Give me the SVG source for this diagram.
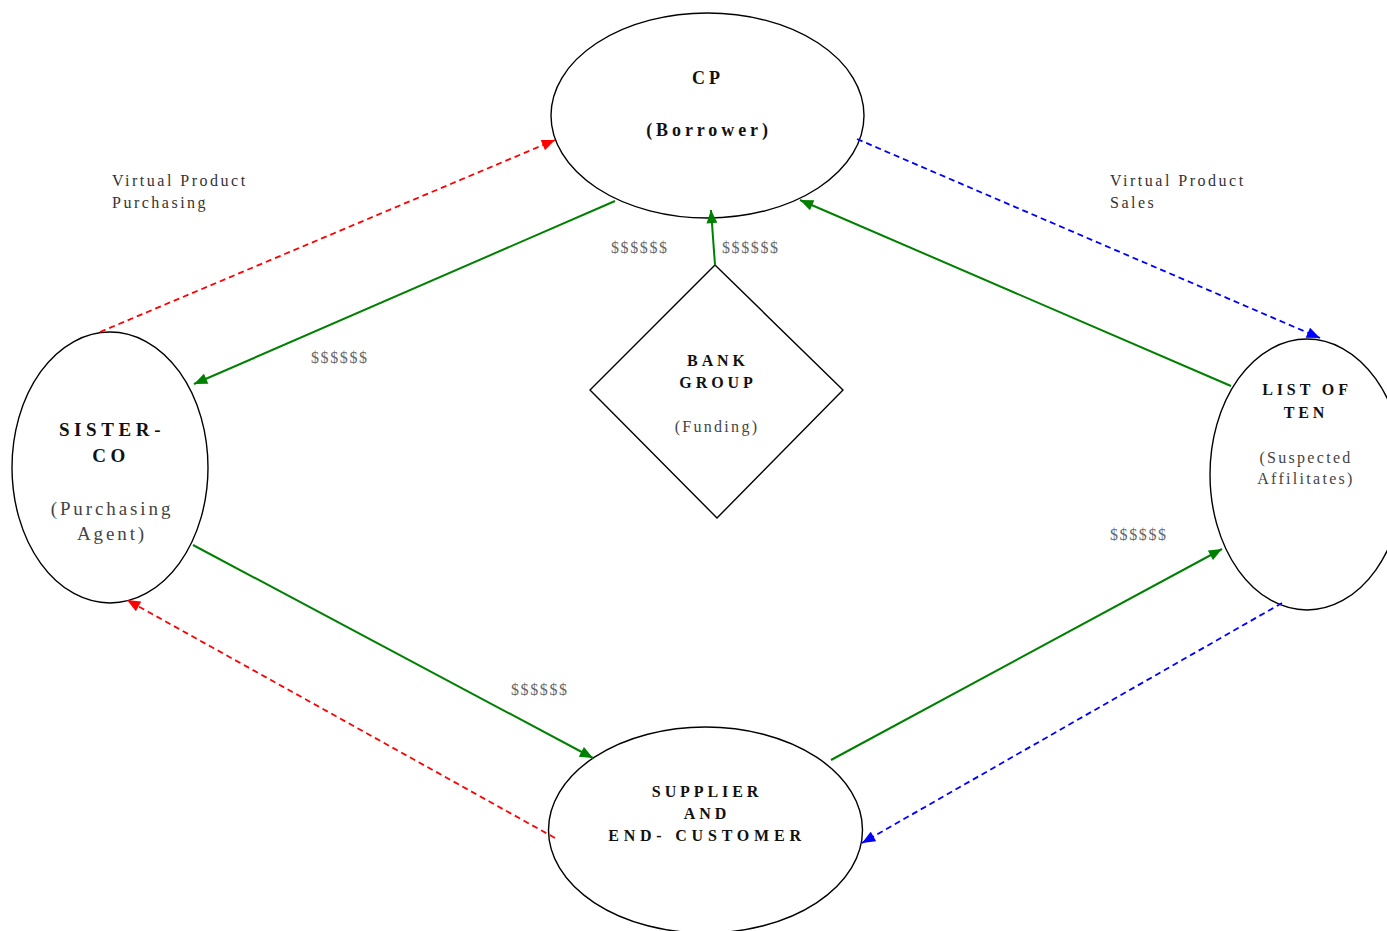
<svg xmlns="http://www.w3.org/2000/svg" width="1387" height="931" viewBox="0 0 1387 931">
<style>
.node{fill:#fff;stroke:#000;stroke-width:1.4}
.b{font-family:"Liberation Serif",serif;font-weight:bold;fill:#111;text-anchor:middle;letter-spacing:3.9px}
.n{font-family:"Liberation Serif",serif;fill:#444;text-anchor:middle;letter-spacing:2.3px}
.lbl{font-family:"Liberation Serif",serif;fill:#333;font-size:16px;letter-spacing:2.5px}
.d{font-family:"Liberation Serif",serif;fill:#666;font-size:16px;letter-spacing:1.6px}
.g{stroke:#008000;stroke-width:2;fill:none}
.r{stroke:#ff0000;stroke-width:1.8;fill:none;stroke-dasharray:6 4}
.bl{stroke:#0000ff;stroke-width:1.8;fill:none;stroke-dasharray:6 4}
</style>
<defs>
<marker id="ag" viewBox="0 0 12 10" refX="12" refY="5" markerWidth="14" markerHeight="11" markerUnits="userSpaceOnUse" orient="auto"><path d="M0,0L12,5L0,10z" fill="#008000"/></marker>
<marker id="ar" viewBox="0 0 12 10" refX="12" refY="5" markerWidth="14" markerHeight="11" markerUnits="userSpaceOnUse" orient="auto"><path d="M0,0L12,5L0,10z" fill="#ff0000"/></marker>
<marker id="ab" viewBox="0 0 12 10" refX="12" refY="5" markerWidth="14" markerHeight="11" markerUnits="userSpaceOnUse" orient="auto"><path d="M0,0L12,5L0,10z" fill="#0000ff"/></marker>
</defs>
<rect width="1387" height="931" fill="#fff"/>
<g id="cp">
<ellipse class="node" cx="707.5" cy="115.5" rx="156.5" ry="102.5"/>
<text class="b" x="708" y="84" font-size="18">CP</text>
<text class="b" x="709" y="136" font-size="18">(Borrower)</text>
</g>
<g id="sisterco">
<ellipse class="node" cx="110" cy="467.5" rx="98" ry="135.5"/>
<text class="b" x="112" y="436" font-size="19" style="letter-spacing:4.6px">SISTER-</text>
<text class="b" x="111" y="462" font-size="19" style="letter-spacing:4.6px">CO</text>
<text class="n" x="112" y="515" font-size="19" style="letter-spacing:2.9px">(Purchasing</text>
<text class="n" x="112" y="540" font-size="19" style="letter-spacing:2.9px">Agent)</text>
</g>
<g id="bank">
<polygon class="node" points="715,265 843,390 717,518 590,390"/>
<text class="b" x="718" y="366" font-size="16">BANK</text>
<text class="b" x="718" y="388" font-size="16">GROUP</text>
<text class="n" x="717" y="432" font-size="16">(Funding)</text>
</g>
<g id="listoften">
<ellipse class="node" cx="1307" cy="474.5" rx="97" ry="135.5"/>
<text class="b" x="1307" y="395" font-size="16">LIST OF</text>
<text class="b" x="1306" y="418" font-size="16">TEN</text>
<text class="n" x="1306" y="463" font-size="16">(Suspected</text>
<text class="n" x="1306" y="484" font-size="16">Affilitates)</text>
</g>
<g id="supplier">
<ellipse class="node" cx="705.5" cy="830" rx="157" ry="103"/>
<text class="b" x="707" y="797" font-size="16">SUPPLIER</text>
<text class="b" x="707" y="819" font-size="16">AND</text>
<text class="b" x="707" y="841" font-size="16" style="letter-spacing:4.8px">END- CUSTOMER</text>
</g>
<g id="connectors">
<line class="r" x1="100" y1="332" x2="555" y2="140" marker-end="url(#ar)"/>
<line class="bl" x1="857" y1="139" x2="1320" y2="338" marker-end="url(#ab)"/>
<line class="g" x1="615" y1="201" x2="194" y2="384" marker-end="url(#ag)"/>
<line class="g" x1="715" y1="265" x2="711" y2="210" marker-end="url(#ag)"/>
<line class="g" x1="1231" y1="386" x2="800" y2="200" marker-end="url(#ag)"/>
<line class="g" x1="193" y1="545" x2="593" y2="758" marker-end="url(#ag)"/>
<line class="g" x1="831" y1="760" x2="1222" y2="549" marker-end="url(#ag)"/>
<line class="r" x1="555" y1="838" x2="127" y2="600" marker-end="url(#ar)"/>
<line class="bl" x1="1282" y1="603" x2="862" y2="843" marker-end="url(#ab)"/>
</g>
<g id="labels">
<text class="lbl" x="112" y="186">Virtual Product</text>
<text class="lbl" x="112" y="208">Purchasing</text>
<text class="lbl" x="1110" y="186">Virtual Product</text>
<text class="lbl" x="1110" y="208">Sales</text>
<text class="d" x="611" y="253">$$$$$$</text>
<text class="d" x="722" y="253">$$$$$$</text>
<text class="d" x="311" y="363">$$$$$$</text>
<text class="d" x="1110" y="540">$$$$$$</text>
<text class="d" x="511" y="695">$$$$$$</text>
</g>
</svg>
